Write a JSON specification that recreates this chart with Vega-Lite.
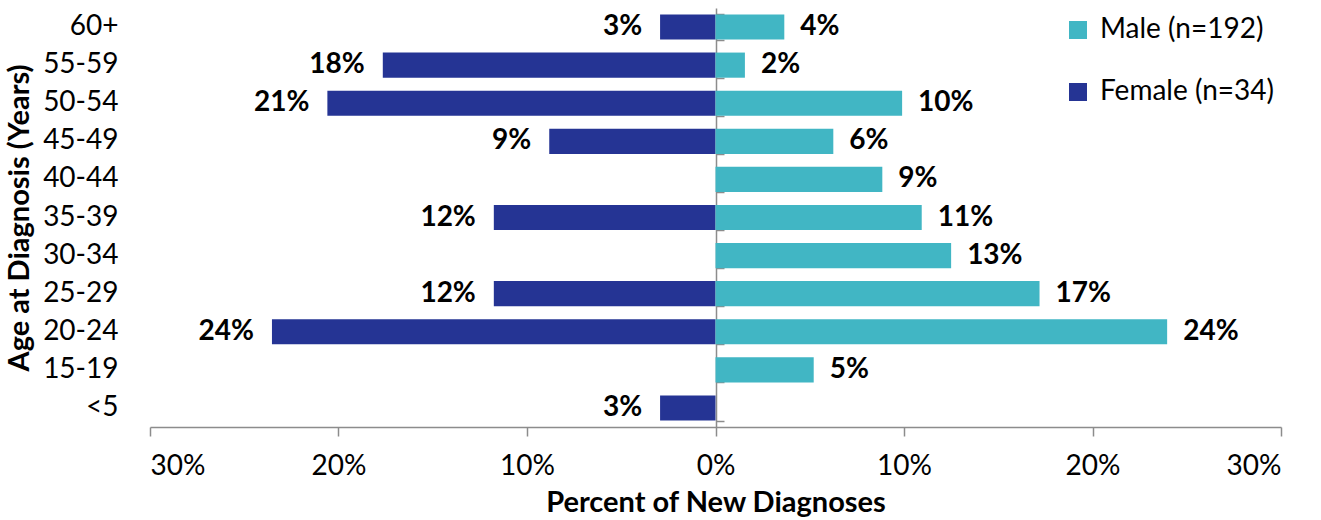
{
  "$schema": "https://vega.github.io/schema/vega-lite/v6.json",
  "width": 1131,
  "height": 419,
  "autosize": "none",
  "padding": {"left": 150, "top": 8, "right": 40, "bottom": 93},
  "config": {
    "view": {"stroke": null},
    "font": "Lato"
  },
  "data": {
    "values": [
      {"age": "60+", "group": "Female (n=34)", "value": -0.0294, "label": "3%"},
      {"age": "55-59", "group": "Female (n=34)", "value": -0.1765, "label": "18%"},
      {"age": "50-54", "group": "Female (n=34)", "value": -0.2059, "label": "21%"},
      {"age": "45-49", "group": "Female (n=34)", "value": -0.0882, "label": "9%"},
      {"age": "35-39", "group": "Female (n=34)", "value": -0.1176, "label": "12%"},
      {"age": "25-29", "group": "Female (n=34)", "value": -0.1176, "label": "12%"},
      {"age": "20-24", "group": "Female (n=34)", "value": -0.2353, "label": "24%"},
      {"age": "<5", "group": "Female (n=34)", "value": -0.0294, "label": "3%"},
      {"age": "60+", "group": "Male (n=192)", "value": 0.0365, "label": "4%"},
      {"age": "55-59", "group": "Male (n=192)", "value": 0.0156, "label": "2%"},
      {"age": "50-54", "group": "Male (n=192)", "value": 0.099, "label": "10%"},
      {"age": "45-49", "group": "Male (n=192)", "value": 0.0625, "label": "6%"},
      {"age": "40-44", "group": "Male (n=192)", "value": 0.0885, "label": "9%"},
      {"age": "35-39", "group": "Male (n=192)", "value": 0.1094, "label": "11%"},
      {"age": "30-34", "group": "Male (n=192)", "value": 0.125, "label": "13%"},
      {"age": "25-29", "group": "Male (n=192)", "value": 0.1719, "label": "17%"},
      {"age": "20-24", "group": "Male (n=192)", "value": 0.2396, "label": "24%"},
      {"age": "15-19", "group": "Male (n=192)", "value": 0.0521, "label": "5%"}
    ]
  },
  "encoding": {
    "y": {
      "field": "age",
      "type": "nominal",
      "sort": ["60+", "55-59", "50-54", "45-49", "40-44", "35-39", "30-34", "25-29", "20-24", "15-19", "<5"],
      "scale": {"paddingInner": 0.34, "paddingOuter": 0.17}
    },
    "x": {
      "field": "value",
      "type": "quantitative",
      "scale": {"domain": [-0.3, 0.3], "nice": false}
    }
  },
  "layer": [
    {
      "mark": {"type": "bar"},
      "encoding": {
        "color": {
          "field": "group",
          "type": "nominal",
          "scale": {"domain": ["Male (n=192)", "Female (n=34)"], "range": ["#41B6C4", "#253494"]},
          "legend": {
            "title": null,
            "orient": "none",
            "legendX": 914,
            "legendY": 8,
            "padding": 0,
            "symbolType": "square",
            "symbolSize": 324,
            "symbolStrokeWidth": 0,
            "labelFontSize": 28,
            "labelFont": "Lato",
            "labelColor": "#000000",
            "labelOffset": 8,
            "labelLimit": 400,
            "rowPadding": 34
          }
        },
        "y": {
          "field": "age",
          "type": "nominal",
          "sort": ["60+", "55-59", "50-54", "45-49", "40-44", "35-39", "30-34", "25-29", "20-24", "15-19", "<5"],
          "axis": {
            "title": "Age at Diagnosis (Years)",
            "titleFontSize": 29,
            "titleFontWeight": "bold",
            "titleColor": "#000000",
            "titlePadding": 8,
            "labelFontSize": 28,
            "labelColor": "#000000",
            "labelPadding": 32,
            "domain": false,
            "ticks": false,
            "grid": false
          }
        },
        "x": {
          "field": "value",
          "type": "quantitative",
          "axis": {
            "values": [-0.3, -0.2, -0.1, 0, 0.1, 0.2, 0.3],
            "labelExpr": "format(abs(datum.value), '.0%')",
            "title": "Percent of New Diagnoses",
            "titleFontSize": 29,
            "titleFontWeight": "bold",
            "titleColor": "#000000",
            "titlePadding": 8,
            "labelFontSize": 28,
            "labelColor": "#000000",
            "labelPadding": 16,
            "domainColor": "#8c8c8c",
            "domainWidth": 1.5,
            "tickColor": "#8c8c8c",
            "tickWidth": 1.5,
            "tickSize": 9,
            "grid": false
          }
        }
      }
    },
    {
      "transform": [{"filter": "datum.value < 0"}],
      "mark": {"type": "text", "align": "right", "dx": -18, "fontSize": 28, "fontWeight": "bold", "color": "#000000"},
      "encoding": {
        "text": {"field": "label"},
        "y": {
          "field": "age",
          "type": "nominal",
          "sort": ["60+", "55-59", "50-54", "45-49", "40-44", "35-39", "30-34", "25-29", "20-24", "15-19", "<5"],
          "axis": null
        },
        "x": {"field": "value", "type": "quantitative", "axis": null}
      }
    },
    {
      "transform": [{"filter": "datum.value > 0"}],
      "mark": {"type": "text", "align": "left", "dx": 16, "fontSize": 28, "fontWeight": "bold", "color": "#000000"},
      "encoding": {
        "text": {"field": "label"},
        "y": {
          "field": "age",
          "type": "nominal",
          "sort": ["60+", "55-59", "50-54", "45-49", "40-44", "35-39", "30-34", "25-29", "20-24", "15-19", "<5"],
          "axis": {
            "title": null,
            "labels": false,
            "offset": -565,
            "domainColor": "#8c8c8c",
            "domainWidth": 1.5,
            "tickColor": "#8c8c8c",
            "tickWidth": 1.5,
            "tickSize": 8,
            "tickBand": "extent",
            "grid": false
          }
        },
        "x": {"field": "value", "type": "quantitative", "axis": null}
      }
    }
  ],
  "resolve": {"axis": {"y": "independent", "x": "independent"}}
}
